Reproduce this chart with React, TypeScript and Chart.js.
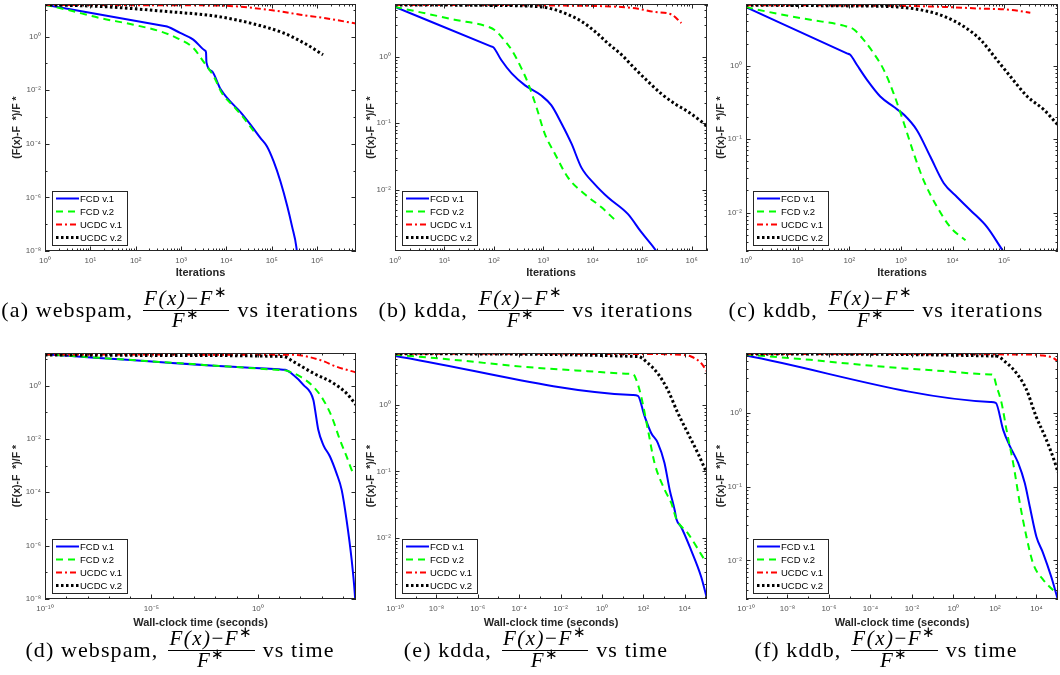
import React, { useEffect, useRef } from 'react';
import { Chart, registerables } from 'chart.js';

Chart.register(...registerables);
Chart.defaults.font.family = "'Liberation Sans', Arial, Helvetica, sans-serif";

type Pt = [number, number];

// ---------- (a) webspam, iterations ----------
const aFcd1: Pt[] = [[1, 15.5], [398, 2.55], [490, 2.4], [955, 1.38], [1860, 0.78], [3390, 0.3], [3550, 0.26], [3630, 0.11], [4790, 0.051], [7240, 0.012], [1.2e4, 3.9e-3], [2e4, 1.6e-3], [3.4e4, 5.2e-4], [5.6e4, 1.66e-4], [7.8e4, 8.1e-5], [1.1e5, 2.2e-5], [1.55e5, 4e-6], [2.2e5, 4.7e-7], [2.8e5, 8.3e-8], [3.5e5, 1.35e-8], [3.8e5, 3e-9]];
const aFcd2: Pt[] = [[1, 15.5], [3, 10.2], [16, 5], [89, 2.8], [347, 1.58], [813, 0.89], [1860, 0.38], [3090, 0.12], [5250, 0.033], [7940, 7.9e-3], [1.45e4, 2.5e-3], [2.4e4, 9.3e-4], [4e4, 2.95e-4]];
const aUcdc1: Pt[] = [[1, 15.2], [1e3, 14.9], [1e4, 14.2], [1.1e5, 9.5], [4.3e5, 6.6], [1.4e6, 5], [7.2e6, 3.1]];
const aUcdc2: Pt[] = [[1, 15.5], [16, 13.5], [490, 8.7], [6200, 5.75], [3.4e4, 3.2], [1.8e5, 1.38], [6e5, 0.5], [1.35e6, 0.21]];

// ---------- (b) kdda, iterations ----------
const bFcd1: Pt[] = [[1, 5.6], [85, 1.44], [98, 1.38], [141, 0.89], [229, 0.56], [427, 0.37], [912, 0.26], [1445, 0.186], [2344, 0.098], [3715, 0.049], [5890, 0.0214], [1.1e4, 0.012], [2.04e4, 7.6e-3], [5.1e4, 4.3e-3], [9.5e4, 2.3e-3], [1.95e5, 1.17e-3], [2.4e5, 9e-4]];
const bFcd2: Pt[] = [[1, 5.6], [3.5, 4.6], [16, 3.6], [78, 2.8], [105, 2.5], [141, 2.0], [229, 1.26], [363, 0.66], [490, 0.4], [724, 0.174], [1070, 0.069], [1700, 0.035], [3160, 0.0151], [6900, 8.5e-3], [1.5e4, 5.4e-3], [2.75e4, 3.55e-3]];
const bUcdc1: Pt[] = [[1, 6], [100, 6], [1e3, 5.9], [3.8e4, 5.6], [8.3e4, 5.25], [1.8e5, 4.7], [3.9e5, 4.3], [6.2e5, 3.2]];
const bUcdc2: Pt[] = [[1, 6], [100, 5.9], [912, 5.6], [1700, 5.1], [3160, 4.3], [5900, 3.4], [1.1e4, 2.4], [2.04e4, 1.58], [3.8e4, 1.07], [7.1e4, 0.66], [1.32e5, 0.42], [2.45e5, 0.275], [4.6e5, 0.195], [8.5e5, 0.148], [2.04e6, 0.091]];

// ---------- (c) kddb, iterations ----------
const cFcd1: Pt[] = [[1, 6.24], [90, 1.47], [105, 1.4], [141, 1.02], [224, 0.63], [398, 0.38], [724, 0.275], [1150, 0.214], [2040, 0.132], [3720, 0.0575], [6760, 0.0251], [1.23e4, 0.0162], [2.24e4, 0.0107], [4.7e4, 6.3e-3], [9.5e4, 3.0e-3], [1.15e5, 2.5e-3]];
const cFcd2: Pt[] = [[1, 6.24], [4, 5.1], [17.8, 4.2], [78, 3.5], [123, 3.1], [190, 2.24], [295, 1.48], [468, 0.87], [724, 0.417], [1150, 0.162], [1780, 0.063], [2750, 0.0275], [5000, 0.012], [9100, 6.3e-3], [1.78e4, 4.2e-3]];
const cUcdc1: Pt[] = [[1, 6.65], [1e3, 6.5], [6760, 6.3], [3e4, 6], [1.3e5, 5.75], [3.2e5, 5.25]];
const cUcdc2: Pt[] = [[1, 6.65], [100, 6.5], [850, 6.3], [3240, 5.5], [6760, 4.7], [1.66e4, 3.4], [3.5e4, 2.24], [7.2e4, 1.2], [1.32e5, 0.71], [2.8e5, 0.38], [5.9e5, 0.25], [1.1e6, 0.155]];

// ---------- (d) webspam, time ----------
const dFcd1: Pt[] = [[1e-10, 15], [10, 4.05], [19, 3.9], [47, 2.5], [138, 1.07], [407, 0.29], [490, 0.123], [692, 0.022], [1200, 5.9e-3], [2450, 2.2e-3], [5000, 5.1e-4], [8700, 1.23e-4], [1.48e4, 9.1e-6], [2.57e4, 2.9e-7], [3.6e4, 1.6e-8], [4e4, 4e-9]];
const dFcd2: Pt[] = [[1e-10, 15], [10, 3.85], [19, 3.7], [95, 2.2], [407, 0.91], [1200, 0.29], [2950, 0.069], [7240, 9.1e-3], [1.48e4, 2.2e-3], [3e4, 5.1e-4], [3.3e4, 4.5e-4]];
const dUcdc1: Pt[] = [[1e-10, 14.5], [47, 14.2], [832, 9.1], [5000, 5.1], [4.1e4, 3.1]];
const dUcdc2: Pt[] = [[1e-10, 14], [1e-5, 13.5], [16, 12.3], [47, 7.9], [407, 2.9], [3550, 1.23], [1.48e4, 0.51], [4.1e4, 0.19]];

// ---------- (e) kdda, time ----------
const eFcd1: Pt[] = [[1e-10, 5.5], [30, 1.42], [55, 1.38], [115, 0.68], [240, 0.38], [500, 0.27], [1050, 0.135], [1900, 0.052], [3300, 0.026], [4000, 0.019], [6760, 0.0145], [2.04e4, 6.5e-3], [6.2e4, 2.6e-3], [1.2e5, 1.2e-3]];
const eFcd2: Pt[] = [[1e-10, 5.75], [7.8e-8, 4.8], [1.3e-4, 3.8], [0.21, 3.24], [25, 2.97], [32, 2.95], [46, 2.4], [79, 1.35], [166, 0.43], [347, 0.135], [1100, 0.052], [2290, 0.033], [4000, 0.019], [1.41e4, 0.0117], [8.9e4, 4.7e-3]];
const eUcdc1: Pt[] = [[1e-10, 5.94], [100, 5.9], [6760, 5.75], [2.04e4, 5.4], [6.2e4, 4.3], [1.2e5, 3.2]];
const eUcdc2: Pt[] = [[1e-10, 5.94], [55, 5.4], [166, 4.3], [500, 3.0], [1510, 1.7], [4680, 0.76], [1.41e4, 0.38], [4.27e4, 0.19], [1.2e5, 0.093]];

// ---------- (f) kddb, time ----------
const fFcd1: Pt[] = [[1e-10, 6.0], [60, 1.41], [110, 1.37], [250, 0.59], [525, 0.355], [1320, 0.21], [2750, 0.112], [4790, 0.054], [1e4, 0.021], [2.1e4, 0.0126], [5.2e4, 6e-3], [1.1e5, 2.9e-3]];
const fFcd2: Pt[] = [[1e-10, 6.2], [1.26e-7, 5.25], [2e-4, 4.3], [0.32, 3.7], [60, 3.33], [81, 3.3], [120, 2.3], [209, 1.37], [363, 0.59], [759, 0.209], [1585, 0.06], [3311, 0.021], [6918, 9.1e-3], [2.1e4, 5.5e-3], [9.1e4, 3.6e-3]];
const fUcdc1: Pt[] = [[1e-10, 6.3], [4680, 6.2], [2.04e4, 6.0], [6.2e4, 5.6], [1.1e5, 5.0]];
const fUcdc2: Pt[] = [[1e-10, 6.3], [117, 5.9], [355, 4.8], [1070, 3.5], [3240, 2.1], [9770, 0.89], [2.95e4, 0.44], [8.9e4, 0.19], [1.1e5, 0.155]];

// ---------- tick values ----------
const iterTicks6 = [1, 10, 100, 1e3, 1e4, 1e5, 1e6];
const iterTicks5 = [1, 10, 100, 1e3, 1e4, 1e5];
const timeTicksWebspam = [1e-10, 1e-5, 1];
const timeTicks = [1e-10, 1e-8, 1e-6, 1e-4, 1e-2, 1, 1e2, 1e4];
const errTicksWide = [1e-8, 1e-6, 1e-4, 1e-2, 1];
const errTicksNarrow = [1e-2, 1e-1, 1];
const minorFull = [1, 2, 3, 4, 5, 6, 7, 8, 9];
const minorDecade = [1];

const seriesLabels = ['FCD v.1', 'FCD v.2', 'UCDC v.1', 'UCDC v.2'];
const seriesStyle = [
  { color: '#0000ff', dash: [] as number[], width: 2 },
  { color: '#00ff00', dash: [7, 5], width: 2 },
  { color: '#ff0000', dash: [6, 3, 2, 3], width: 2 },
  { color: '#000000', dash: [2.5, 2.5], width: 3 },
];

const SUP: Record<string, string> = { '0': '⁰', '1': '¹', '2': '²', '3': '³', '4': '⁴', '5': '⁵', '6': '⁶', '7': '⁷', '8': '⁸', '9': '⁹', '-': '⁻' };
function powLabel(v: number): string {
  const e = Math.round(Math.log10(v));
  return '10' + String(e).split('').map((c) => SUP[c] || c).join('');
}

interface PanelSpec {
  series: Pt[][];
  xMin: number; xMax: number; yMin: number; yMax: number;
  xTicks: number[]; yTicks: number[];
  xMinor: number[]; yMinor: number[];
  xTitle: string;
  col: number; row: number;
}

const panels: PanelSpec[] = [
  { series: [aFcd1, aFcd2, aUcdc1, aUcdc2], xMin: 1, xMax: 7.2e6, yMin: 1e-8, yMax: 16.6, xTicks: iterTicks6, yTicks: errTicksWide, xMinor: minorFull, yMinor: minorDecade, xTitle: 'Iterations', col: 0, row: 0 },
  { series: [bFcd1, bFcd2, bUcdc1, bUcdc2], xMin: 1, xMax: 2.04e6, yMin: 1.19e-3, yMax: 6.2, xTicks: iterTicks6, yTicks: errTicksNarrow, xMinor: minorFull, yMinor: minorFull, xTitle: 'Iterations', col: 1, row: 0 },
  { series: [cFcd1, cFcd2, cUcdc1, cUcdc2], xMin: 1, xMax: 1.1e6, yMin: 3.0e-3, yMax: 6.9, xTicks: iterTicks5, yTicks: errTicksNarrow, xMinor: minorFull, yMinor: minorFull, xTitle: 'Iterations', col: 2, row: 0 },
  { series: [dFcd1, dFcd2, dUcdc1, dUcdc2], xMin: 1e-10, xMax: 4.1e4, yMin: 1e-8, yMax: 16.6, xTicks: timeTicksWebspam, yTicks: errTicksWide, xMinor: minorDecade, yMinor: minorDecade, xTitle: 'Wall-clock time (seconds)', col: 0, row: 1 },
  { series: [eFcd1, eFcd2, eUcdc1, eUcdc2], xMin: 1e-10, xMax: 1.2e5, yMin: 1.19e-3, yMax: 6.1, xTicks: timeTicks, yTicks: errTicksNarrow, xMinor: minorDecade, yMinor: minorFull, xTitle: 'Wall-clock time (seconds)', col: 1, row: 1 },
  { series: [fFcd1, fFcd2, fUcdc1, fUcdc2], xMin: 1e-10, xMax: 1.1e5, yMin: 3.0e-3, yMax: 6.5, xTicks: timeTicks, yTicks: errTicksNarrow, xMinor: minorDecade, yMinor: minorFull, xTitle: 'Wall-clock time (seconds)', col: 2, row: 1 },
];

const captions = [
  { label: '(a) webspam,', tail: 'vs iterations' },
  { label: '(b) kdda,', tail: 'vs iterations' },
  { label: '(c) kddb,', tail: 'vs iterations' },
  { label: '(d) webspam,', tail: 'vs time' },
  { label: '(e) kdda,', tail: 'vs time' },
  { label: '(f) kddb,', tail: 'vs time' },
];

// layout (pixels)
const COLS = [
  { left: 0, width: 360, yw: 45, padR: 4, yTitlePad: 10.5 },
  { left: 360, width: 352, yw: 35, padR: 5, yTitlePad: 5.2 },
  { left: 712, width: 348, yw: 34, padR: 2, yTitlePad: 2.7 },
];
const ROWS = [
  { top: 0, height: 290, padTop: 4, xh: 39, xTitlePad: 10.4, capTop: 290 },
  { top: 340, height: 290, padTop: 13, xh: 31, xTitlePad: 0.4, capTop: 630 },
];

function tickMarks(min: number, max: number, mults: number[], majors: number[]) {
  const out: { v: number; major: boolean }[] = [];
  const d0 = Math.floor(Math.log10(min)) - 1;
  const d1 = Math.ceil(Math.log10(max)) + 1;
  for (let d = d0; d <= d1; d++) {
    for (const m of mults) {
      const v = m * Math.pow(10, d);
      if (v < min * 0.9999 || v > max * 1.0001) continue;
      const major = m === 1 && majors.some((t) => Math.abs(Math.log10(t) - d) < 1e-6);
      out.push({ v, major });
    }
  }
  return out;
}

const matlabFrame = {
  id: 'matlabFrame',
  afterDatasetsDraw(chart: any, _args: any, opts: any) {
    const { ctx, chartArea: a } = chart;
    const xs = chart.scales.x;
    const ys = chart.scales.y;
    ctx.save();
    ctx.strokeStyle = '#262626';
    ctx.lineWidth = 1;
    ctx.setLineDash([]);
    ctx.beginPath();
    for (const t of tickMarks(xs.min, xs.max, opts.xMinor, opts.xTicks)) {
      const px = Math.round(xs.getPixelForValue(t.v)) + 0.5;
      const len = t.major ? 4.5 : 2.5;
      ctx.moveTo(px, a.bottom); ctx.lineTo(px, a.bottom - len);
      ctx.moveTo(px, a.top); ctx.lineTo(px, a.top + len);
    }
    for (const t of tickMarks(ys.min, ys.max, opts.yMinor, opts.yTicks)) {
      const py = Math.round(ys.getPixelForValue(t.v)) + 0.5;
      const len = t.major ? 4.5 : 2.5;
      ctx.moveTo(a.left, py); ctx.lineTo(a.left + len, py);
      ctx.moveTo(a.right, py); ctx.lineTo(a.right - len, py);
    }
    ctx.stroke();
    ctx.strokeRect(Math.round(a.left) + 0.5, Math.round(a.top) + 0.5, Math.round(a.right - a.left) - 1, Math.round(a.bottom - a.top) - 1);

    // legend box, bottom-left inside the axes
    const lw = 75, lh = 54;
    const lx = Math.round(a.left) + 7;
    const ly = Math.round(a.bottom) - 6 - lh;
    ctx.fillStyle = '#ffffff';
    ctx.fillRect(lx, ly, lw, lh);
    ctx.strokeStyle = '#262626';
    ctx.strokeRect(lx + 0.5, ly + 0.5, lw, lh);
    ctx.font = "9.5px 'Liberation Sans', Arial, sans-serif";
    ctx.textBaseline = 'middle';
    ctx.textAlign = 'left';
    chart.data.datasets.forEach((ds: any, i: number) => {
      const cy = ly + 7.5 + i * 13;
      ctx.save();
      ctx.strokeStyle = ds.borderColor;
      ctx.lineWidth = ds.borderWidth;
      ctx.setLineDash(ds.borderDash || []);
      ctx.beginPath();
      ctx.moveTo(lx + 4, cy);
      ctx.lineTo(lx + 27, cy);
      ctx.stroke();
      ctx.restore();
      ctx.fillStyle = '#000000';
      ctx.fillText(ds.label, lx + 28, cy + 0.5);
    });
    ctx.restore();
  },
};

function Panel({ spec }: { spec: PanelSpec }) {
  const ref = useRef<HTMLCanvasElement>(null);
  const col = COLS[spec.col];
  const row = ROWS[spec.row];
  useEffect(() => {
    const canvas = ref.current;
    if (!canvas) return;
    const chart = new Chart(canvas, {
      type: 'line',
      data: {
        datasets: spec.series.map((pts, i) => ({
          label: seriesLabels[i],
          data: pts.map(([x, y]) => ({ x, y })),
          borderColor: seriesStyle[i].color,
          backgroundColor: seriesStyle[i].color,
          borderWidth: seriesStyle[i].width,
          borderDash: seriesStyle[i].dash,
          borderCapStyle: 'butt',
          pointRadius: 0,
          pointHoverRadius: 0,
          fill: false,
          cubicInterpolationMode: 'monotone',
          order: 3 - i,
        })),
      },
      options: {
        animation: false,
        responsive: false,
        devicePixelRatio: 1,
        events: [],
        layout: { padding: { left: 0, right: col.padR, top: row.padTop, bottom: 0 } },
        plugins: {
          legend: { display: false },
          tooltip: { enabled: false },
          matlabFrame: { xTicks: spec.xTicks, yTicks: spec.yTicks, xMinor: spec.xMinor, yMinor: spec.yMinor },
        } as any,
        scales: {
          x: {
            type: 'logarithmic',
            position: 'bottom',
            min: spec.xMin,
            max: spec.xMax,
            grid: { display: false, drawTicks: false },
            border: { display: false },
            ticks: {
              autoSkip: false, maxRotation: 0, padding: 5,
              font: { size: 8 }, color: '#555555',
              callback: (v: any) => powLabel(Number(v)),
            },
            afterBuildTicks: (scale: any) => { scale.ticks = spec.xTicks.map((value) => ({ value })); },
            afterFit: (scale: any) => { scale.height = row.xh; scale.paddingLeft = 0; scale.paddingRight = 0; },
            title: { display: true, text: spec.xTitle, color: '#262626', font: { size: 11, weight: 'bold' }, padding: { top: 0, bottom: row.xTitlePad } },
          },
          y: {
            type: 'logarithmic',
            position: 'left',
            min: spec.yMin,
            max: spec.yMax,
            grid: { display: false, drawTicks: false },
            border: { display: false },
            ticks: {
              autoSkip: false, padding: 4,
              font: { size: 8 }, color: '#555555',
              callback: (v: any) => powLabel(Number(v)),
            },
            afterBuildTicks: (scale: any) => { scale.ticks = spec.yTicks.map((value) => ({ value })); },
            afterFit: (scale: any) => { scale.width = col.yw; scale.paddingTop = 0; scale.paddingBottom = 0; },
            title: { display: true, text: '(F(x)-F  *)/F *', color: '#262626', font: { size: 10.5, weight: 'bold' }, padding: { top: col.yTitlePad, bottom: 0 } },
          },
        },
      } as any,
      plugins: [matlabFrame as any],
    });
    return () => chart.destroy();
  }, []);
  return (
    <canvas
      ref={ref}
      width={col.width}
      height={row.height}
      style={{ position: 'absolute', left: col.left, top: row.top, width: col.width, height: row.height }}
    />
  );
}

function Caption({ idx }: { idx: number }) {
  const col = COLS[idx % 3];
  const row = ROWS[Math.floor(idx / 3)];
  const c = captions[idx];
  const sup: React.CSSProperties = { fontSize: '0.7em', position: 'relative', top: '-0.5em', fontStyle: 'normal' };
  return (
    <div
      style={{
        position: 'absolute', left: col.left, top: row.capTop, width: col.width, height: 40,
        display: 'flex', alignItems: 'center', justifyContent: 'center', whiteSpace: 'nowrap',
        fontFamily: "'Liberation Serif', 'Times New Roman', serif", fontSize: 22, letterSpacing: '1.1px', color: '#000',
      }}
    >
      <span>{c.label}</span>
      <span style={{ display: 'inline-flex', flexDirection: 'column', alignItems: 'center', margin: '0 8px 0 10px', fontStyle: 'italic', fontSize: 21, letterSpacing: '1.5px' }}>
        <span style={{ lineHeight: '17px', padding: '0 1px 1px 1px', borderBottom: '1px solid #000' }}>
          F(x)<span style={{ fontStyle: 'normal' }}>−</span>F<span style={sup}>∗</span>
        </span>
        <span style={{ lineHeight: '18px' }}>
          F<span style={sup}>∗</span>
        </span>
      </span>
      <span>{c.tail}</span>
    </div>
  );
}

export default function App() {
  return (
    <div style={{ position: 'absolute', left: 0, top: 0, width: 1060, height: 675, background: '#ffffff', overflow: 'hidden' }}>
      {panels.map((p, i) => (
        <Panel key={i} spec={p} />
      ))}
      {captions.map((_, i) => (
        <Caption key={i} idx={i} />
      ))}
    </div>
  );
}
